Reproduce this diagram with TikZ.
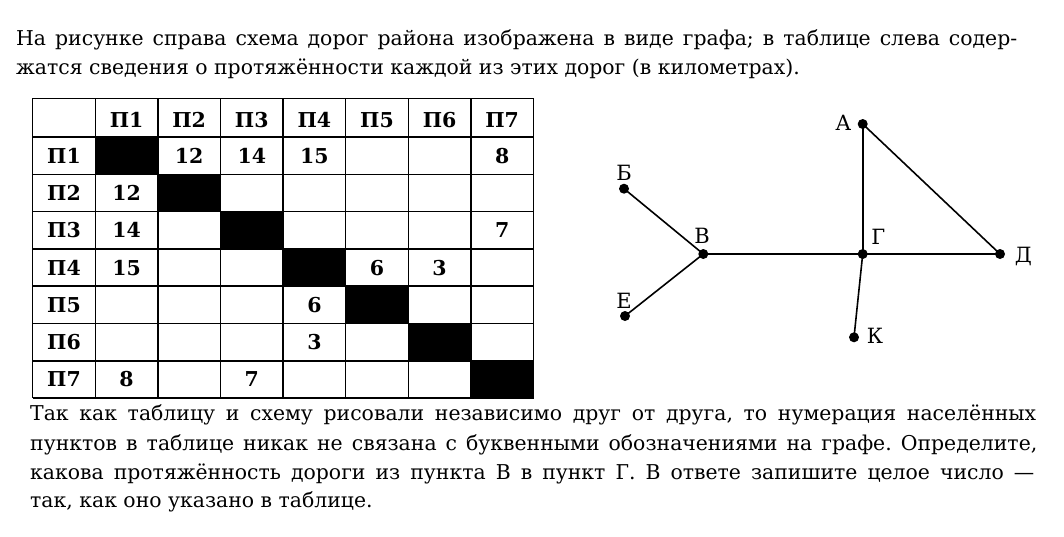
\documentclass[tikz,border=0pt]{standalone}
\usepackage{fontspec}
\setmainfont{DejaVu Serif}
\frenchspacing
\begin{document}
\begin{tikzpicture}[x=1pt,y=-1pt,
  txt/.style={anchor=base west,inner sep=0pt,font=\fontsize{20.4}{22}\selectfont},
  cell/.style={anchor=center,inner sep=0pt,text height=15pt,text depth=0pt,font=\bfseries\fontsize{20.5}{22}\selectfont},
  grid/.style={line width=1.5pt},
  road/.style={line width=1.6pt},
  dot/.style={circle,fill=black,inner sep=0pt,minimum size=10pt},
  lbl/.style={anchor=center,inner sep=0pt,text height=15pt,text depth=0pt,font=\fontsize{21}{22}\selectfont}]
\useasboundingbox (0,0) rectangle (1064,536);
% top text
\node[txt] (t1) at (16,45.7) {\makebox[1001pt][s]{На рисунке справа схема дорог района изображена в виде графа; в таблице слева содер-}};
\node[txt] (t2) at (16,74) {жатся сведения о протяжённости каждой из этих дорог (в километрах).};
% table
\foreach \i in {1,...,7} {
  \fill ({32.7+62.6*\i},{137+37.3*(\i-1)}) rectangle ({32.7+62.6*(\i+1)},{137+37.3*\i});
}
\foreach \i in {0,...,8} {
  \draw[grid] ({32.7+62.6*\i},98.3) -- ({32.7+62.6*\i},398.3);
}
\draw[grid] (32.7,98.3) -- (533.5,98.3);
\foreach \j in {0,...,7} {
  \draw[grid] (32.7,{137+37.3*\j}) -- (533.5,{137+37.3*\j});
}
\foreach \i in {1,...,7} {
  \node[cell] (h\i) at ({32.7+62.6*(\i+0.5)},119.5) {П\i};
  \node[cell] (r\i) at ({32.7+62.6*0.5},{137+37.3*(\i-0.5)}) {П\i};
}
\foreach \c/\r/\v in {2/1/12,3/1/14,4/1/15,7/1/8,1/2/12,1/3/14,7/3/7,1/4/15,5/4/6,6/4/3,4/5/6,4/6/3,1/7/8,3/7/7} {
  \node[cell] (c\c-\r) at ({32.7+62.6*(\c+0.5)},{137+37.3*(\r-0.5)}) {\v};
}
% graph
\node[dot] (A) at (862.7,124) {};
\node[dot] (B) at (624,188.7) {};
\node[dot] (V) at (703.3,254) {};
\node[dot] (G) at (862.7,254) {};
\node[dot] (D) at (1000,254) {};
\node[dot] (E) at (625,316) {};
\node[dot] (K) at (854,337.3) {};
\draw[road] (A.center) -- (G.center);
\draw[road] (A.center) -- (D.center);
\draw[road] (B.center) -- (V.center);
\draw[road] (E.center) -- (V.center);
\draw[road] (V.center) -- (G.center);
\draw[road] (G.center) -- (D.center);
\draw[road] (G.center) -- (K.center);
\node[lbl] (lA) at (843.3,123) {А};
\node[lbl] (lB) at (624,173) {Б};
\node[lbl] (lV) at (702,235.5) {В};
\node[lbl] (lG) at (878.3,236.5) {Г};
\node[lbl] (lD) at (1023.3,255) {Д};
\node[lbl] (lE) at (624,301) {Е};
\node[lbl] (lK) at (875,335.5) {К};
% bottom text
\node[txt] (b1) at (30,420.7) {\makebox[1006pt][s]{Так как таблицу и схему рисовали независимо друг от друга, то нумерация населённых}};
\node[txt] (b2) at (30,450) {\makebox[1007pt][s]{пунктов в таблице никак не связана с буквенными обозначениями на графе. Определите,}};
\node[txt] (b3) at (30,479) {\makebox[1004pt][s]{какова протяжённость дороги из пункта В в пункт Г. В ответе запишите целое число —}};
\node[txt] (b4) at (30,507.3) {так, как оно указано в таблице.};
\end{tikzpicture}
\end{document}
